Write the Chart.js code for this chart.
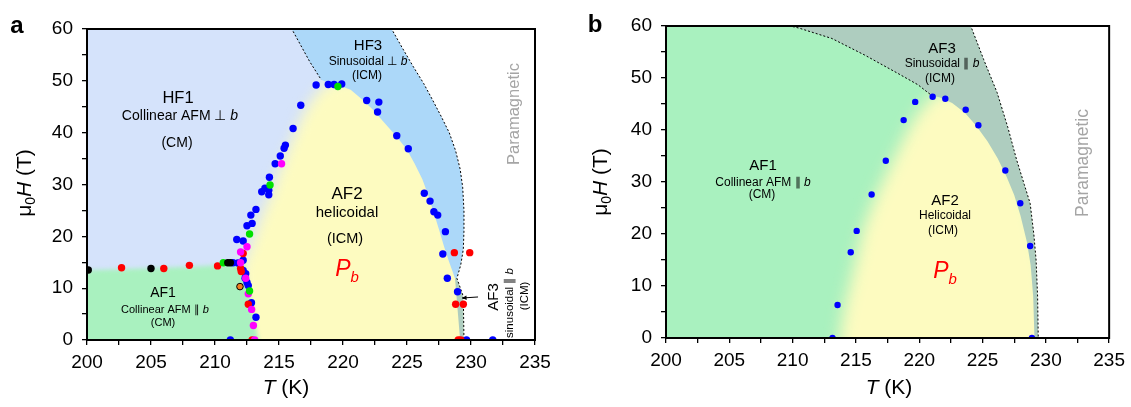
<!DOCTYPE html>
<html><head><meta charset="utf-8">
<script src="https://cdn.jsdelivr.net/npm/chart.js@4.4.0/dist/chart.umd.min.js"></script>
<style>
html,body{margin:0;padding:0;background:#fff;width:1131px;height:407px;overflow:hidden}
#wa{position:absolute;left:0;top:0;width:565px;height:407px}
#wb{position:absolute;left:565px;top:0;width:566px;height:407px}
canvas{display:block}
</style></head><body>
<div id="wa"><canvas id="ca" width="565" height="407" style="width:565px;height:407px"></canvas></div>
<div id="wb"><canvas id="cb" width="566" height="407" style="width:566px;height:407px"></canvas></div>
<script>
// ---------- tick labels ----------
const xLabelTicks = [200,205,210,215,220,225,230,235];
const yLabelTicks = [0,10,20,30,40,50,60];

// ---------- panel a : measured points (T in K, H in T) ----------
const aBlueT = [211.4,211.8,212.2,212.2,212.4,212.35,212.5,212.6,212.85,213.2,211.2,211.7,212.2,212.5,212.9,212.8,213.2,213.65,213.9,214.2,214.2,214.25,214.7,215.1,215.4,215.5,216.1,216.7,217.9,218.85,219.3,219.9,221.85,222.8,222.7,224.2,225.1,226.35,226.8,227.1,227.4,228.0,227.8,228.15,228.95,229.65,231.7];
const aBlueH = [14.9,14.85,15.4,13.4,12.8,11.9,11.1,10.5,7.2,4.4,0,19.4,19.1,22.05,22.5,24.1,25.2,28.6,29.3,28.0,28.9,31.4,34.0,35.5,37.0,37.6,40.8,45.3,49.2,49.3,49.3,49.4,46.2,45.9,44.0,39.4,36.9,28.3,26.8,24.75,24.1,20.9,16.6,11.9,9.3,0,0];
const aRedT = [202.7,206.0,208.0,210.2,212.0,212.05,212.2,212.6,212.9,228.7,229.9,228.8,229.4,229.0,229.2];
const aRedH = [13.95,13.8,14.4,14.3,13.8,13.2,16.7,6.9,0,16.85,16.85,6.9,6.9,0,0];
const aMagT = [212.0,212.0,212.5,212.4,212.6,212.86,213.0,213.1,215.2];
const aMagH = [14.9,17.0,18.0,11.9,8.9,5.9,2.8,0,34.0];
const aGreenT = [210.65,212.7,212.7,214.3,219.6];
const aGreenH = [14.9,9.45,20.45,29.9,48.9];
const aBlackT = [200.1,205.0,211.0,211.2];
const aBlackH = [13.5,13.8,14.9,14.9];
const aOrangeT = [211.95];
const aOrangeH = [10.3];

// ---------- panel b : measured points ----------
const bBlueT = [213.15,213.55,214.59,215.06,216.24,217.36,218.77,219.68,221.06,222.06,223.67,224.67,226.8,227.98,228.76,228.9];
const bBlueH = [0,6.35,16.5,20.6,27.6,34.1,41.9,45.4,46.4,46.0,43.9,40.9,32.2,25.9,17.7,0];

// ---------- phase boundaries (T, H) ----------
const aTopDash = [[215.9,61],[216.0,60],[217.4,53.7],[218.3,50.2]];
const aParaEdge = [[223.7,61],[223.8,60],[224.6,56.5],[225.5,52.7],[226.3,49.5],[227.0,46.3],[227.7,43.0],[228.3,40],[228.8,36.5],[229.15,33],[229.35,29.5],[229.45,25],[229.45,21],[229.4,17.5],[229.2,14.5],[228.9,11.9],[229.4,8.4],[229.45,0],[229.45,-5]];
const aDomeRight = [[229.15,-5],[229.15,0],[228.75,11.9],[228.3,15],[227.9,18],[227.5,21.3],[227.1,24.5],[226.6,28.3],[226.2,31],[225.6,34],[225.0,36.7],[224.2,39.2],[223.3,41.7],[222.3,44.5],[221.5,46.4],[220.6,48.3],[219.6,49.2],[218.9,49.6],[218.3,50.2]];
const aDomeLeft = [[212.0,-5],[212.0,14],[212.5,16.5],[212.9,19],[213.4,22.5],[213.8,25],[214.5,29],[214.9,32],[215.4,35],[215.9,38],[216.5,41.5],[217.2,45],[218.2,48.4],[219.0,49.8],[219.8,50.4]];
const aDomeUnder = [[221.0,50.4],[223.0,48.5],[225.0,44.5],[226.5,40],[227.5,35],[228.4,30],[229.1,24.5],[229.7,18],[230.2,12],[230.6,5],[230.8,-5]];
const aAF1Edge = [[198,-5],[198,13.4],[200,13.45],[203,13.7],[206,13.95],[209,14.25],[211,14.6],[212.2,14.9],[212.35,13.5],[212.6,10],[212.9,6],[213.15,3],[213.4,0],[213.5,-5]];
const aArrow = [[230.55,8.3],[229.3,8.1]];

const bTopDash = [[209.7,61],[209.8,60],[210.5,59.6],[213.1,57.6],[215.7,54.4],[218.3,50.9],[219.9,48.7],[221.0,46.6]];
const bParaEdge = [[224.0,61],[224.07,60],[225.1,53.5],[226.15,47.2],[227.0,40.5],[227.7,34.2],[228.3,29.5],[228.76,25.9],[229.05,20],[229.23,15],[229.35,8],[229.4,0],[229.4,-5]];
const bDomeRight = [[229.1,-5],[229.1,0],[229.0,8],[228.8,14],[228.5,18.5],[228.0,23.5],[227.5,27.5],[226.9,31],[226.2,34.5],[225.4,37.8],[224.5,40.8],[223.6,43.3],[222.6,45.2],[221.6,46.3],[221.0,46.6]];
const bDomeLeft = [[213.7,-5],[213.7,0],[214.1,6],[214.6,11],[215.1,16],[215.5,20.5],[216.1,24.5],[216.7,28],[217.4,31.5],[218.1,35],[218.9,39],[219.7,42.5],[220.5,45],[221.2,46.9]];
const bDomeUnder = [[222.2,47.6],[223.8,46.5],[225.2,44],[226.4,40],[227.4,35],[228.4,29],[229.2,22],[229.9,14],[230.3,5],[230.5,-5]];

const fullRect = [[198,-5],[198,62],[237,62],[237,-5]];

const COL = {hf1:'#d5e3fb', hf3:'#acd8f9', green:'#a9f1bf', yellow:'#fdfbc0', af3:'#aecdbf'};
const F = '"Liberation Sans", Arial, Helvetica, sans-serif';

// ---------- helpers ----------
const pairs = a => a.map(p => ({x:p[0], y:p[1]}));
const pts = (T,H) => T.map((t,i) => ({x:t, y:H[i]}));
function region(poly, color, blur){
  return {data:pairs(poly), regionColor:color, regionBlur:blur||0, showLine:false, pointRadius:0, pointHoverRadius:0, clip:false};
}
function dash(line){
  return {data:pairs(line), showLine:true, borderColor:'#000', borderWidth:1, borderDash:[2,2], pointRadius:0, tension:0, fill:false, clip:0};
}
function dots(T,H,color,r,border){
  return {data:pts(T,H), showLine:false, pointRadius:r, pointHoverRadius:r, backgroundColor:color,
    borderColor:border||color, borderWidth:border?1:0, clip:0};
}
function S(t,size,o){return Object.assign({t,size},o||{});}
function fontOf(s){return (s.it?'italic ':'')+(s.bold?'bold ':'')+s.size+'px '+F;}
function drawRich(ctx,L){
  ctx.save(); ctx.translate(L.x,L.y); if(L.rot) ctx.rotate(L.rot);
  let w=0; for(const s of L.segs){ctx.font=fontOf(s); s.w=ctx.measureText(s.t).width; w+=s.w;}
  const base=L.segs[0].size*0.36; let cx=-w/2;
  ctx.textAlign='left'; ctx.textBaseline='alphabetic';
  for(const s of L.segs){ctx.font=fontOf(s); ctx.fillStyle=s.c||L.c||'#000'; ctx.fillText(s.t,cx,base+(s.dy||0)); cx+=s.w;}
  ctx.restore();
}

const regionPlugin = {
  id:'regions',
  beforeDatasetDraw(chart,args){
    const ds = chart.data.datasets[args.index];
    if(!ds.regionColor) return;
    const ctx=chart.ctx, ca=chart.chartArea, el=args.meta.data;
    ctx.save();
    ctx.beginPath(); ctx.rect(ca.left,ca.top,ca.right-ca.left,ca.bottom-ca.top); ctx.clip();
    if(ds.regionBlur) ctx.filter='blur('+ds.regionBlur+'px)';
    ctx.beginPath();
    el.forEach((p,i)=> i?ctx.lineTo(p.x,p.y):ctx.moveTo(p.x,p.y));
    ctx.closePath(); ctx.fillStyle=ds.regionColor; ctx.fill();
    ctx.restore();
  }
};
function decoPlugin(labels, arrows){
  return {
    id:'deco',
    afterDatasetsDraw(chart){
      const ctx=chart.ctx, ca=chart.chartArea, xs=chart.scales.x, ys=chart.scales.y;
      ctx.save();
      ctx.strokeStyle='#000'; ctx.lineWidth=2;
      ctx.strokeRect(ca.left,ca.top,ca.right-ca.left,ca.bottom-ca.top);
      for(const a of arrows){
        const x0=xs.getPixelForValue(a[0][0]), y0=ys.getPixelForValue(a[0][1]);
        const x1=xs.getPixelForValue(a[1][0]), y1=ys.getPixelForValue(a[1][1]);
        ctx.lineWidth=1; ctx.beginPath(); ctx.moveTo(x0,y0); ctx.lineTo(x1,y1); ctx.stroke();
        const ang=Math.atan2(y1-y0,x1-x0), L=5;
        ctx.beginPath(); ctx.moveTo(x1,y1);
        ctx.lineTo(x1-L*Math.cos(ang-0.45),y1-L*Math.sin(ang-0.45));
        ctx.lineTo(x1-L*Math.cos(ang+0.45),y1-L*Math.sin(ang+0.45));
        ctx.closePath(); ctx.fillStyle='#000'; ctx.fill();
      }
      ctx.restore();
    },
    afterDraw(chart){ for(const L of labels) drawRich(chart.ctx,L); }
  };
}

function build(id, area, layers, labels, arrows){
  const cv=document.getElementById(id), W=cv.width, Hc=cv.height;
  const datasets = layers.map((d,i)=>Object.assign({order:layers.length-i}, d));
  return new Chart(cv,{
    type:'scatter',
    data:{datasets},
    options:{
      responsive:false, animation:false, events:[],
      layout:{padding:{left:0,top:area.top,right:W-area.right,bottom:0}},
      plugins:{legend:{display:false}, tooltip:{enabled:false}},
      scales:{
        x:{type:'linear', min:200, max:235, position:'bottom',
          afterFit(s){s.height=Hc-area.bottom;},
          ticks:{stepSize:2.5, autoSkip:false, maxRotation:0, color:'#000', padding:6,
            font:{family:F,size:19}, callback:v=> xLabelTicks.includes(v)?String(v):''},
          grid:{display:true, drawOnChartArea:false, drawTicks:true, tickLength:5, color:'#000', lineWidth:1.3},
          border:{display:true,color:'#000',width:2}},
        y:{type:'linear', min:0, max:60, position:'left',
          afterFit(s){s.width=area.left;},
          ticks:{stepSize:5, autoSkip:false, color:'#000', padding:9,
            font:{family:F,size:19}, callback:v=> yLabelTicks.includes(v)?String(v):''},
          grid:{display:true, drawOnChartArea:false, drawTicks:true, tickLength:5, color:'#000', lineWidth:1.3},
          border:{display:true,color:'#000',width:2}}
      }
    },
    plugins:[regionPlugin, decoPlugin(labels, arrows)]
  });
}

// ---------- panel a ----------
const aJ = aParaEdge.findIndex(p=>p[1]===11.9);
const aHF3 = aParaEdge.slice(0,aJ+1).concat(aDomeRight.slice(2), aTopDash.slice().reverse());
const aAF3 = aParaEdge.slice(aJ).concat(aDomeRight.slice(0,3));
const aPara = aParaEdge.concat([[237,-5],[237,62],[223.7,62]]);
const aDome = aDomeLeft.concat(aDomeUnder);
const R = -Math.PI/2;
const aLabels = [
  {x:17,y:24,segs:[S('a',24,{bold:true})]},
  {x:178,y:97,segs:[S('HF1',16.5)]},
  {x:180,y:115,segs:[S('Collinear AFM \u22A5 ',14),S('b',14,{it:true})]},
  {x:177,y:142,segs:[S('(CM)',14)]},
  {x:368,y:45,segs:[S('HF3',15)]},
  {x:368,y:61,segs:[S('Sinusoidal \u22A5 ',12),S('b',12,{it:true})]},
  {x:367,y:75,segs:[S('(ICM)',12)]},
  {x:347,y:193,segs:[S('AF2',17)]},
  {x:347,y:212,segs:[S('helicoidal',15)]},
  {x:345,y:238,segs:[S('(ICM)',14.5)]},
  {x:347,y:268,c:'#ff0000',segs:[S('P',23,{it:true}),S('b',15,{it:true,dy:6})]},
  {x:163,y:292,segs:[S('AF1',14)]},
  {x:165,y:309,segs:[S('Collinear AFM \u2225 ',11),S('b',11,{it:true})]},
  {x:163,y:322,segs:[S('(CM)',11)]},
  {x:493,y:297,rot:R,segs:[S('AF3',15)]},
  {x:509,y:303,rot:R,segs:[S('sinusoidal \u2225 ',11.5),S('b',11.5,{it:true})]},
  {x:524,y:296,rot:R,segs:[S('(ICM)',11.5)]},
  {x:513,y:114,rot:R,c:'#a5a5a5',segs:[S('Paramagnetic',16.5)]},
  {x:23,y:183,rot:R,segs:[S('\u03BC',21),S('0',14,{dy:4}),S('H',21,{it:true}),S(' (T)',21)]},
  {x:286,y:386,segs:[S('T',21,{it:true}),S(' (K)',21)]}
];
build('ca',{left:87,right:535,top:29,bottom:340},[
  region(fullRect,COL.hf1),
  region(aDome,COL.yellow,7),
  region(aAF1Edge,COL.green,2),
  region(aHF3,COL.hf3),
  region(aAF3,COL.af3),
  region(aPara,'#ffffff'),
  dash(aTopDash), dash(aParaEdge),
  dots(aBlueT,aBlueH,'#0000ff',3.7),
  dots(aRedT,aRedH,'#ff0000',3.7),
  dots(aMagT,aMagH,'#ff00ff',3.7),
  dots(aGreenT,aGreenH,'#00e000',3.7),
  dots(aBlackT,aBlackH,'#000000',3.7),
  dots(aOrangeT,aOrangeH,'#f08020',3.3,'#000000')
], aLabels, [aArrow]);

// ---------- panel b ----------
const bAF3 = bParaEdge.concat(bDomeRight, bTopDash.slice().reverse());
const bPara = bParaEdge.concat([[237,-5],[237,62],[224.0,62]]);
const bDome = bDomeLeft.concat(bDomeUnder);
const bLabels = [
  {x:30,y:23,segs:[S('b',24,{bold:true})]},
  {x:377,y:48,segs:[S('AF3',15)]},
  {x:377,y:63,segs:[S('Sinusoidal \u2225 ',12),S('b',12,{it:true})]},
  {x:375,y:78,segs:[S('(ICM)',12)]},
  {x:198,y:165,segs:[S('AF1',15)]},
  {x:198,y:182,segs:[S('Collinear AFM \u2225 ',12),S('b',12,{it:true})]},
  {x:197,y:194,segs:[S('(CM)',12)]},
  {x:380,y:200,segs:[S('AF2',15)]},
  {x:380,y:215,segs:[S('Helicoidal',12)]},
  {x:378,y:230,segs:[S('(ICM)',12)]},
  {x:380,y:270,c:'#ff0000',segs:[S('P',23,{it:true}),S('b',15,{it:true,dy:6})]},
  {x:517,y:163,rot:R,c:'#a5a5a5',segs:[S('Paramagnetic',17.5)]},
  {x:34,y:182,rot:R,segs:[S('\u03BC',21),S('0',14,{dy:4}),S('H',21,{it:true}),S(' (T)',21)]},
  {x:324,y:386,segs:[S('T',21,{it:true}),S(' (K)',21)]}
];
build('cb',{left:101,right:548,top:26,bottom:338},[
  region(fullRect,COL.green),
  region(bDome,COL.yellow,8),
  region(bAF3,COL.af3),
  region(bPara,'#ffffff'),
  dash(bTopDash), dash(bParaEdge),
  dots(bBlueT,bBlueH,'#0000ff',3.2)
], bLabels, []);
</script>
</body></html>
